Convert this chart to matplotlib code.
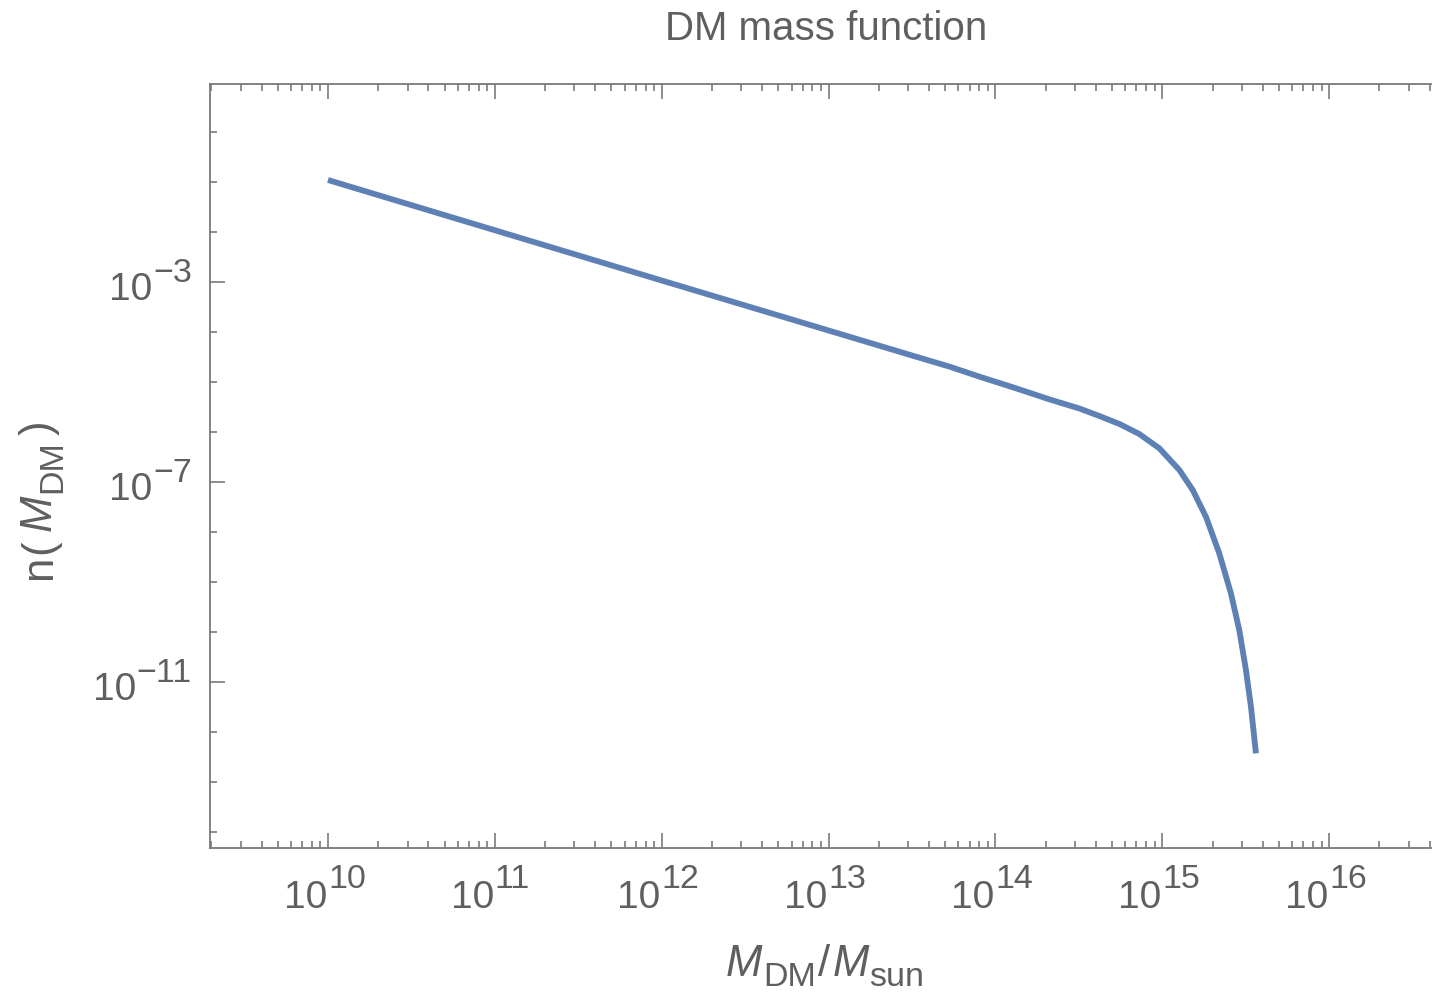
import numpy as np
import matplotlib
matplotlib.use("Agg")
import matplotlib.pyplot as plt
from matplotlib.ticker import LogLocator, FixedLocator, NullFormatter
from matplotlib.transforms import offset_copy

# ---- data (log10 values) ----
log_mass = [10.0, 11.0, 12.0, 13.0, 13.5, 13.725, 13.904, 14.124, 14.323,
            14.503, 14.623, 14.743, 14.862, 14.982, 15.102, 15.182, 15.262,
            15.341, 15.411, 15.461, 15.501, 15.531, 15.561]
log_n = [-0.96, -1.965, -2.97, -3.97, -4.47, -4.693, -4.893, -5.127, -5.347,
         -5.53, -5.68, -5.84, -6.04, -6.326, -6.76, -7.16, -7.70,
         -8.426, -9.226, -9.96, -10.76, -11.494, -12.426]

x_major_exps = [10, 11, 12, 13, 14, 15, 16]
y_major_exps = [-3, -7, -11]

title = "DM mass function"
# label pieces: (text, is_subscript, is_italic)
xlabel_parts = [("M", False, True), ("DM", True, False), ("/", False, False),
                ("M", False, True), ("sun", True, False)]
ylabel_parts = [("n", False, False), ("(", False, False), ("M", False, True),
                ("DM", True, False), (")", False, False)]

mass = 10.0 ** np.array(log_mass)
n = 10.0 ** np.array(log_n)

plt.rcParams['font.family'] = ['Liberation Sans', 'DejaVu Sans']

text_color = '#5f5f5f'
spine_color = '#7a7a7a'
base_fs = 28
sup_fs = 24.5
lab_fs = 31.5
sub_fs = 24.5

W, H = 1432, 992
fig = plt.figure(figsize=(W / 100, H / 100), dpi=100)
ax = fig.add_axes([210 / W, (H - 848) / H, (1431 - 210) / W, (848 - 84) / H])

ax.plot(mass, n, color='#5e81b5', lw=4.2, solid_capstyle='butt', solid_joinstyle='round')

ax.set_xscale('log')
ax.set_yscale('log')
ax.set_xlim(10 ** 9.293, 10 ** 16.61)
ax.set_ylim(10 ** -14.32, 10 ** 0.96)

ax.xaxis.set_major_locator(FixedLocator([10.0 ** e for e in x_major_exps]))
ax.xaxis.set_minor_locator(LogLocator(base=10, subs=np.arange(2, 10), numticks=100))
ax.yaxis.set_major_locator(FixedLocator([10.0 ** e for e in y_major_exps]))
ax.yaxis.set_minor_locator(FixedLocator([10.0 ** e for e in range(-14, 1) if e not in y_major_exps]))
for a in (ax.xaxis, ax.yaxis):
    a.set_major_formatter(NullFormatter())
    a.set_minor_formatter(NullFormatter())

ax.tick_params(axis='both', which='both', direction='in', colors=spine_color, width=1.2)
ax.tick_params(axis='x', which='both', top=True, bottom=True)
ax.tick_params(axis='y', which='both', left=True, right=False)
ax.tick_params(which='major', length=11)
ax.tick_params(which='minor', length=5)

for side in ['left', 'bottom', 'top']:
    ax.spines[side].set_color(spine_color)
    ax.spines[side].set_linewidth(1.3)
ax.spines['right'].set_visible(False)

# ---- tick labels: "10" with a large superscript exponent ----
xt = ax.get_xaxis_transform()
for e in x_major_exps:
    ax.text(10.0 ** e, 0, "10", transform=offset_copy(xt, fig, x=-1, y=-60, units='dots'),
            ha='right', va='baseline', fontsize=base_fs, color=text_color)
    ax.text(10.0 ** e, 0, str(e), transform=offset_copy(xt, fig, x=0, y=-40, units='dots'),
            ha='left', va='baseline', fontsize=sup_fs, color=text_color)

yt = ax.get_yaxis_transform()
sups = []
for e in y_major_exps:
    s = ax.text(0, 10.0 ** e, "\u2212" + str(-e), transform=offset_copy(yt, fig, x=-18, y=0, units='dots'),
                ha='right', va='baseline', fontsize=sup_fs, color=text_color)
    sups.append((e, s))
fig.canvas.draw()
renderer = fig.canvas.get_renderer()
for e, s in sups:
    bb = s.get_window_extent(renderer)
    tick_y = ax.transData.transform((1e12, 10.0 ** e))[1]
    fig.text((bb.x0 - 1) / W, (tick_y - 18) / H, "10", ha='right', va='baseline',
             fontsize=base_fs, color=text_color)


def piece_width(txt, sub, ital):
    t = fig.text(0, 0, txt, fontsize=sub_fs if sub else lab_fs,
                 fontstyle='italic' if ital else 'normal')
    w = t.get_window_extent(renderer).width
    t.remove()
    return w


def layout(parts, gaps):
    widths = [piece_width(*p) for p in parts]
    total = sum(widths) + sum(gaps)
    return widths, total


# x label (horizontal), baseline at y=975 px from top, centred at x=825
xgaps = [1, 2, 3, 0]
widths, total = layout(xlabel_parts, xgaps)
cx = 825 - total / 2
for i, ((txt, sub, ital), w) in enumerate(zip(xlabel_parts, widths)):
    fig.text(cx / W, (H - (976 + (10 if sub else 0))) / H, txt, ha='left', va='baseline',
             fontsize=sub_fs if sub else lab_fs, fontstyle='italic' if ital else 'normal',
             color=text_color)
    cx += w + (xgaps[i] if i < len(xgaps) else 0)

# y label (rotated, reading upward), baseline at x=51 px, centred at y=500 from top
ygaps = [2, 8, 1, 6]
widths, total = layout(ylabel_parts, ygaps)
cy = (H - 500) - total / 2
for i, ((txt, sub, ital), w) in enumerate(zip(ylabel_parts, widths)):
    fig.text((51 + (10 if sub else 0)) / W, cy / H, txt, ha='left', va='baseline',
             rotation=90, rotation_mode='anchor',
             fontsize=sub_fs if sub else lab_fs, fontstyle='italic' if ital else 'normal',
             color=text_color)
    cy += w + (ygaps[i] if i < len(ygaps) else 0)

fig.text(826 / W, 1 - 40 / H, title, ha='center', va='baseline', fontsize=29, color=text_color)

fig.savefig('out.png', dpi=100)
